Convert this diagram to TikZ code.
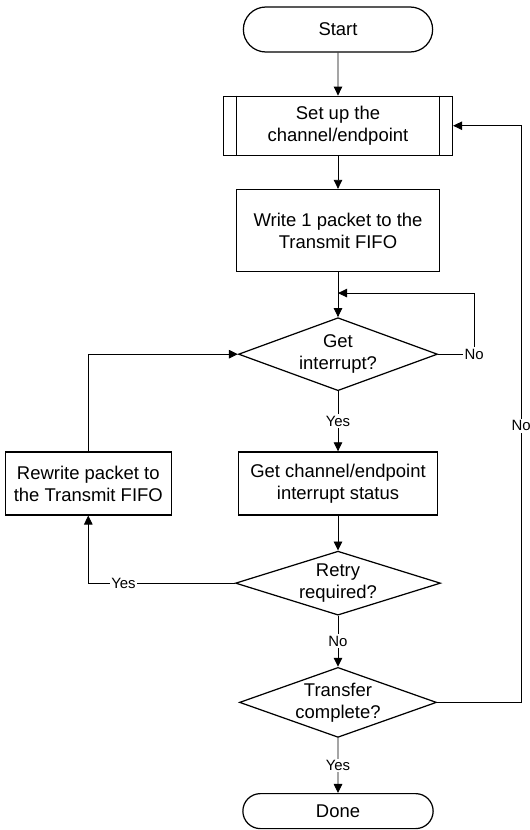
\documentclass[tikz,border=0pt]{standalone}
\usepackage{fontspec}
\setmainfont{Liberation Sans}
\usetikzlibrary{arrows.meta,positioning,shapes.geometric,shapes.misc}

\begin{document}
\begin{tikzpicture}[node distance=10mm, every node/.style={font=\fontsize{10.5}{12.5}\selectfont}, box/.style={draw,line width=0.7pt,align=center,minimum width=3.98cm,minimum height=1.26cm,inner sep=2pt}, term/.style={draw,line width=0.7pt,rounded rectangle,minimum width=4.02cm}, decision/.style={draw,line width=0.7pt,diamond,aspect=2.8,inner sep=-1.5pt,align=center,minimum width=3.98cm,minimum height=1.46cm}, lbl/.style={fill=white,inner sep=1pt,font=\fontsize{8.5}{10}\selectfont}, >={Triangle[length=1.8mm,width=1.7mm]}, line width=0.5pt]
\useasboundingbox (0,0) rectangle (10.58,-16.6);
\node[term, minimum height=0.9cm] (start) at (6.76,-0.59) {Start};
\node[box, below=0.86cm of start, minimum width=4.58cm, minimum height=1.18cm] (setup) {Set up the\\channel/endpoint};
\draw[line width=0.7pt] ([xshift=0.27cm]setup.north west) -- ([xshift=0.27cm]setup.south west);
\draw[line width=0.7pt] ([xshift=-0.27cm]setup.north east) -- ([xshift=-0.27cm]setup.south east);
\node[box, below=0.66cm of setup, minimum width=4.06cm, minimum height=1.64cm] (write) {Write 1 packet to the\\Transmit FIFO};
\coordinate[below=0.42cm of write] (loopin);
\node[decision, below=0.9cm of write] (getint) {Get\\interrupt?};
\node[box, below=1.2cm of getint] (getstat) {Get channel/endpoint\\interrupt status};
\node[decision, below=0.7cm of getstat, minimum width=4.1cm, minimum height=1.28cm] (retry) {Retry\\required?};
\node[decision, below=1.02cm of retry, minimum width=3.94cm, minimum height=1.4cm] (transfer) {Transfer\\complete?};
\node[term, below=1.1cm of transfer, minimum width=4.04cm, minimum height=0.7cm] (done) {Done};
\node[box, left=1.32cm of getstat, minimum width=3.32cm] (rewrite) {Rewrite packet to\\the Transmit FIFO};
\draw[->] (start) -- (setup);
\draw[->] (setup) -- (write);
\draw[->] (write) -- (getint);
\draw[->] (getint.east) -- ++(0.72cm,0) node[lbl]{No} |- (loopin);
\draw[->] (getint) -- node[lbl]{Yes} (getstat);
\draw[->] (getstat) -- (retry);
\draw[->] (retry.west) -| node[lbl, pos=0.38]{Yes} (rewrite.south);
\draw[->] (rewrite.north) |- (getint.west);
\draw[->] (retry) -- node[lbl]{No} (transfer);
\draw[->] (transfer) -- node[lbl]{Yes} (done);
\draw[->] (transfer.east) -- ++(1.68cm,0) |- node[lbl, pos=0.24]{No} (setup.east);
\end{tikzpicture}
\end{document}
